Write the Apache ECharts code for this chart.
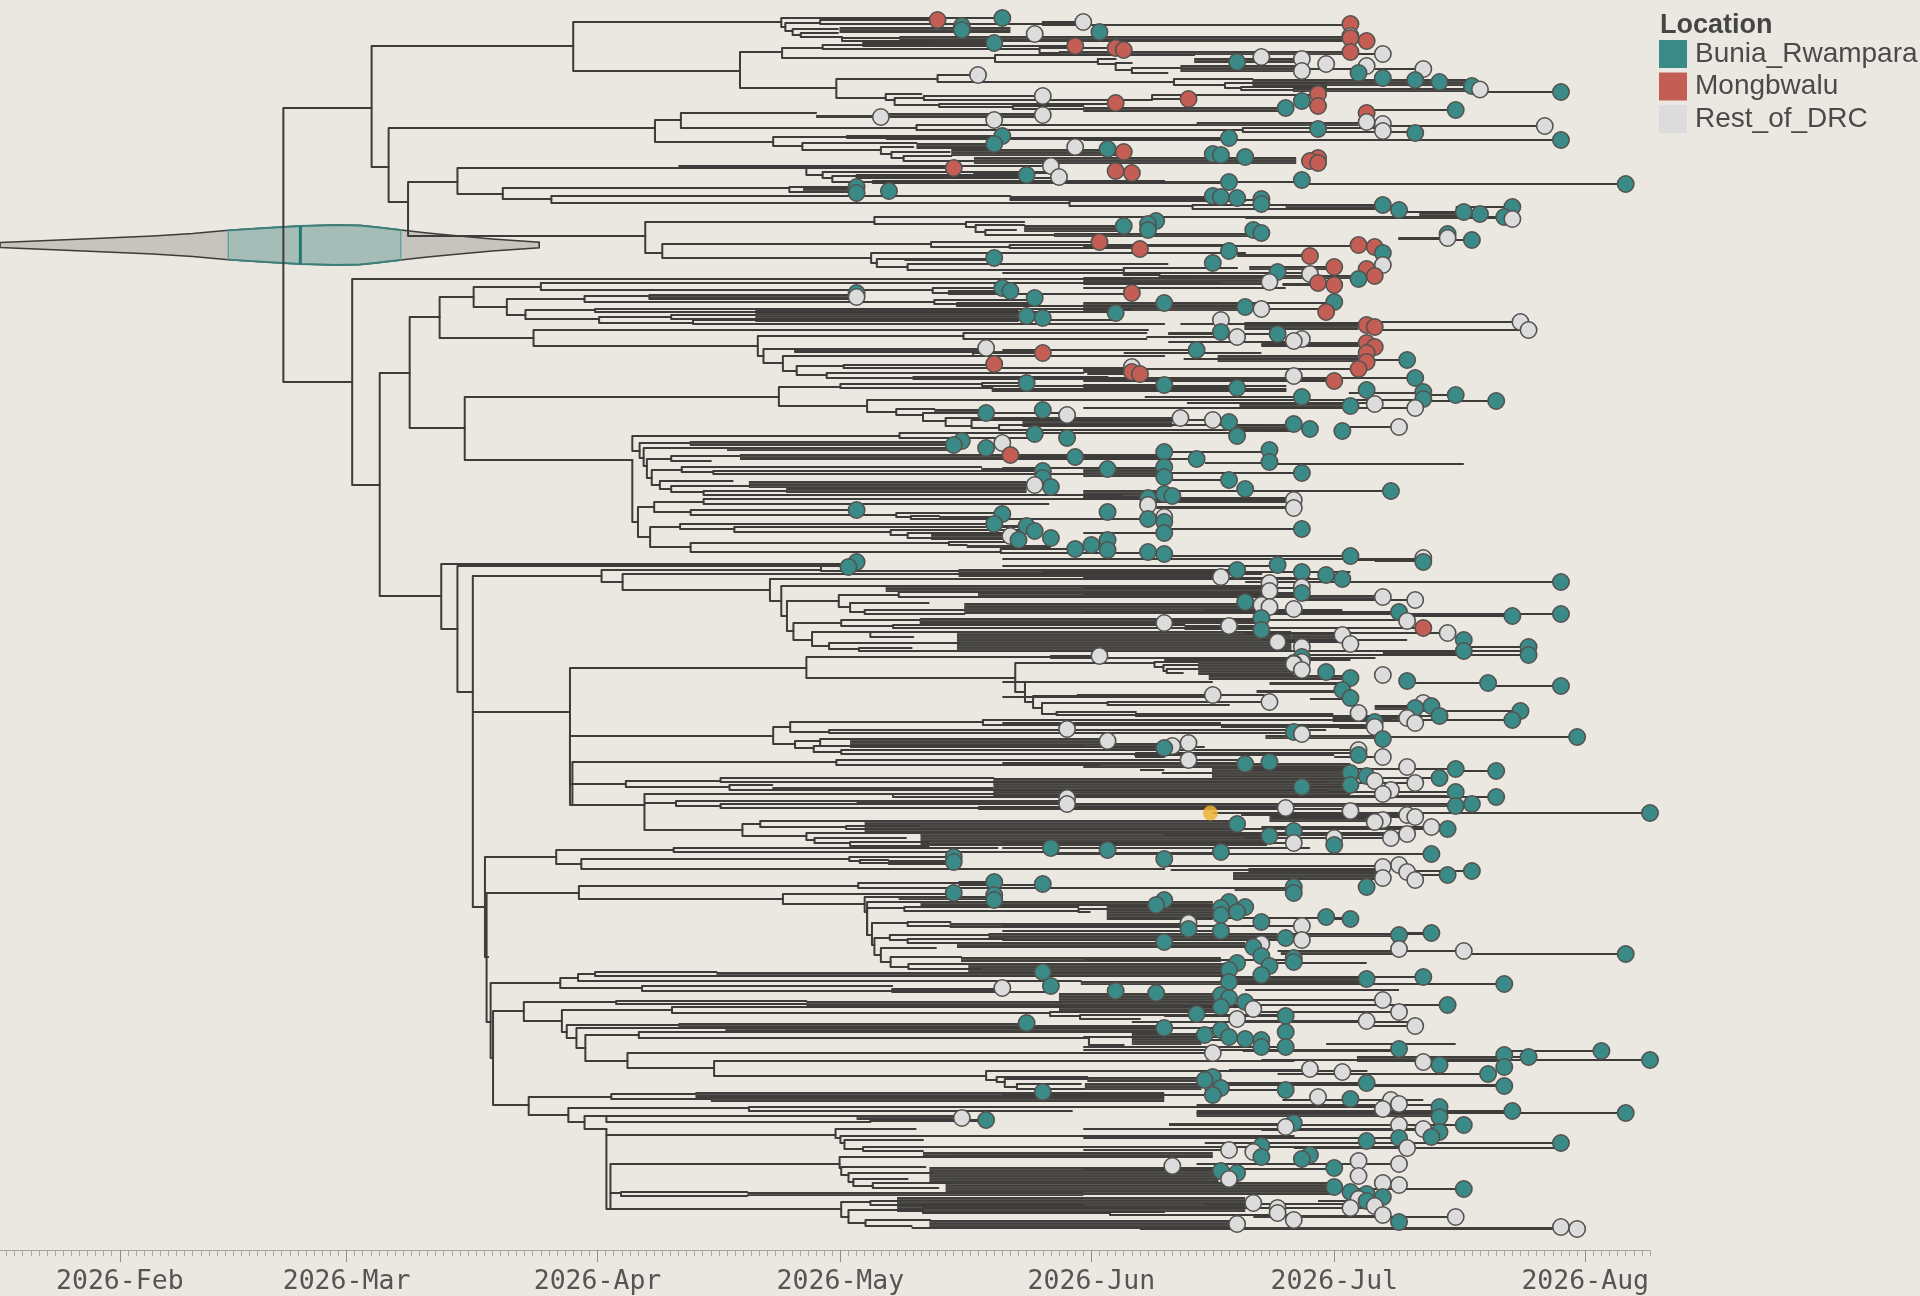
<!DOCTYPE html>
<html><head><meta charset="utf-8">
<style>html,body{margin:0;padding:0;background:#ebe8e1}#c{width:1920px;height:1296px}</style>
<script src="https://cdn.jsdelivr.net/npm/echarts@6/dist/echarts.min.js"></script>
</head><body><div id="c"></div>
<script>
// All x values are days since 2026-01-01; all y values are row positions of the tree layout.
const monthStarts=[31,59,90,120,151,181,212];
const monthLabels=['2026-Feb','2026-Mar','2026-Apr','2026-May','2026-Jun','2026-Jul','2026-Aug'];
const locations=['Bunia_Rwampara','Mongbwalu','Rest_of_DRC'];
// posterior root-age violin: day, half width in rows
const violinDays=[16.2,25,35.1,40,44.4,49,53.3,57.8,60.7,62.5,65.7,69,72.9,77,82.8];
const violinHalf=[2.5,5.5,9,11.5,14.7,17,19,20,19.5,18,15,12,9,6,2.7];
const violinHpd=[44.4,65.7];
const violinMedian=53.3;
const violinRow=245;
const highlightTip=[[165.7,813]];
// [day of node, top row, day top child ends, bottom row, day bottom child ends]
const brackets=[
[51.2,108,62.1,382,59.7],[62.1,46,87,167,64.2],[87,22,112.7,71,107.6],[112.7,18,140,27,113.2],[113.2,23,117.5,31,114.1],[117.5,20,132,24,145],[145,22,150,25,183],[114.1,29,119.7,35,115.1],[115.1,33,119.7,37,120.2],[120.2,38,127.3,41,131],[107.6,52,112.8,88,119.5],[112.8,48,117.8,58,139.1],[117.8,45,122.8,49,144.6],[122.8,43,139,46,149],[144.6,48,155,53,147],[139.1,55,163.7,62,151.8],[151.8,59,154,64,154],[154,63,156,70,156],[156,68,162,73,160.4],[119.5,79,132,98,125.6],[132,75,137,82,161.2],[161.2,79,170.9,85,167.5],[167.5,83,180,88,169.5],[169.5,87,180,90,175.9],[125.6,94,130,100,126.7],[126.7,98,130.3,105,132.2],[130.3,96,145,100,158.5],[158.5,99,163,95,179],[132.2,104,154,107,141.3],[141.3,106,150,109,150],[64.2,128,97.1,202,66.6],[97.1,120,100.3,142,111.7],[100.3,113,117,128,129.4],[129.4,125,164.1,130,169.7],[169.7,128,187,132,176.9],[111.7,137,120.8,146,115.3],[120.8,136,125.6,138,125.6],[115.3,143,129.4,150,125],[125,147,129,154,126.3],[126.3,152,133.5,158,127.8],[127.8,156,133.7,161,136.5],[66.6,182,72.7,236,95.9],[72.7,168,115.8,194,78.3],[115.8,168,134,175,117.8],[117.8,172,146,178,119],[119,176,122,182,124],[122,175,143,178,147],[124,181,160,183,160],[78.3,188,113.7,199,84.3],[113.7,187,122,192,115.4],[84.3,196,141,203,148.3],[141,198,166,200,171],[148.3,201,170,206,163.5],[163.5,205,187,209,189],[95.9,222,124.2,253,98],[124.2,217,170,224,135.5],[135.5,222,142.7,227,136.7],[136.7,225,142.7,232,137.9],[137.9,230,141.7,235,146.4],[98,244,131.2,258,123.8],[131.2,242,152,247,140.9],[140.9,245,168,248,154],[123.8,253,170,263,124.5],[124.5,259,127.9,267,128.3],[128.3,264,160.4,270,155],[155,268,169,275,159.4],[159.4,273,162.9,276,162.9],
[59.7,279,156,485,63.1],[63.1,373,66.8,596,70.7],[66.8,317,70.5,428,73.6],[70.5,297,74.7,338,82.1],[74.7,287,83,307,78.8],[83,283,167,290,131.4],[131.4,288,140,293,133.4],[133.4,291,141,294,156],[78.8,299,88.4,315,81.1],[88.4,296,96.4,302,131.6],[96.4,295,122,299,122],[131.6,300,144,304,134.4],[134.4,303,144,306,170],[81.1,310,89.7,319,90.2],[89.7,309,156,312,154],[90.2,317,99.1,323,101.8],[99.1,315,109.5,319,143],[101.8,320,154,324,160],[82.1,330,158,346,109.8],[109.8,336,135.2,356,110.5],[135.2,333,157.8,339,157.8],[110.5,349,114.4,363,112.9],[114.4,349,138,352,136.4],[112.9,356,136.4,371,114.6],[136.4,353,145,356,160],[114.6,366,120.4,375,118.3],[120.4,365,139,368,150],[118.3,373,150,378,129],[129,377,153,379,156],[73.6,397,112.4,460,94.3],[112.4,387,120,406,123.3],[120,384,137.5,388,138.8],[137.5,383,143,386,175],[138.8,389,175,391,175],[123.3,400,157.6,412,126.9],[126.9,409,131.6,415,130.2],[130.2,413,148,421,133],[133,418,143,426,136.2],[136.2,420,168,428,139.6],[139.6,425,172,430,175],
[94.3,436,127.3,451,95.2],[127.3,433,148,438,144],[95.2,443,101.4,458,95.7],[95.7,448,106,466,96.1],[96.1,459,99.1,478,96.7],[99.1,456,107.6,461,104],[96.7,470,100.4,485,97.7],[100.4,467,137.4,472,104.3],[104.3,471,144,474,150],[97.7,481,106.7,489,99.1],[99.1,486,108.7,492,103.1],[103.1,491,113.3,495,154.8],[94.3,460,94.3,522,95],[95,507,97,537,96.5],[97,502,103.1,512,101.5],[103.1,499,154.8,504,145.7],[101.5,510,122,515,126.9],[126.9,513,140,517,128.7],[128.7,516,132.2,519,153],[96.5,527,100.2,547,101.5],[100.2,524,139,529,106.9],[106.9,527,137.9,532,126.2],[126.2,530,144,535,128.3],[128.3,533,142,538,131.2],[101.5,543,133.4,552,139.8],[133.4,542,141,545,135.6],[139.8,549,149,553,160],
[70.7,564,122,629,72.7],[72.7,566,121,692,74.6],[74.6,576,90.5,712,86.6],[90.5,570,117.6,582,93.1],[117.6,566,121,571,134.6],[93.1,574,172,590,111.3],[111.3,579,172,601,112.7],[112.7,586,125.6,616,113.4],[113.4,601,119.8,631,114.2],[119.8,595,127.2,607,121.2],[127.2,592,137,597,178],[121.2,603,130.9,612,123],[123,610,135.3,614,135.3],[114.2,623,120.1,640,116.5],[120.1,620,129.8,626,126.5],[126.5,625,162.5,628,172],[116.5,632,123.7,646,118.6],[123.7,632,134.4,637,129],[118.6,643,134.7,649,122.3],[122.3,648,128.8,651,180],
[86.6,668,115.8,805,86.9],[115.8,657,146,678,141.6],[146,656,152,658,186],[141.6,663,158.8,692,142.8],[158.8,662,164.2,667,159.9],[159.9,665,164.2,671,160.3],[160.3,669,164.2,673,162.3],[142.8,682,148,702,143.8],[143.8,696,149.3,708,144.9],[144.9,703,153,714,146.7],[149.3,695,172.3,697,166],[153,702,173,705,168],[146.7,712,156.5,715,156.5],[156.5,714,180.8,716,180.8],[86.6,736,111.7,784,93.5],[86.9,762,119.5,805,95.8],[111.7,727,113.8,744,114.4],[113.8,722,137.6,732,118.6],[137.6,720,188,725,186],[118.6,730,148,733,176],[114.4,741,117.5,748,116.7],[117.5,739,121.2,746,121.2],[116.7,746,150,752,120.1],[120.1,750,184,754,156.5],[156.5,753,184,757,160],[119.5,760,170,765,152],[93.5,781,105.2,787,106.3],[105.2,778,138.9,782,180],[106.3,785,111.6,790,180],[95.8,794,126.5,830,107.9],[126.5,794,139.1,797,196],[99.7,801,122,806,105.2],[105.2,804,175,808,137.1],[137.1,807,175,809,183],[107.9,824,110.1,836,115.8],[110.1,821,123,827,120.7],[120.7,826,129.9,829,178],[115.8,833,129.9,840,116.8],[116.8,838,128.1,843,121.2],[121.2,842,130.9,846,130.9],
[74.6,712,74.6,907,76.1],[76.1,857,84.9,957,76.3],[84.9,850,99.4,864,88],[99.4,848,139.4,852,146],[88,859,121.1,869,160],[121.1,857,134,861,122.4],[122.4,860,125.9,863,134],[76.3,893,87.7,957,76.5],[87.7,886,122.2,899,112.9],[122.2,883,134.7,888,170],[134.7,882,139,885,145],[112.9,894,134,904,123],[123,897,139,912,123.3],[123.3,902,129.9,935,123.4],[123.3,908,127.9,935,123.9],[127.9,907,149.4,911,149.4],[149.4,909,152.9,912,150.8],[123.9,923,128.3,945,124.2],[128.3,922,133.6,926,133.5],[124.2,938,126.1,955,125],[126.1,935,138.3,940,128.3],[128.3,939,140.2,943,134.6],[125,948,131.8,962,126.2],[126.2,957,134.9,967,128.4],[128.4,964,135.8,969,137.4],[76.3,957,76.3,1022,76.8],[76.8,983,85.4,1058,77.1],[77.1,1011,80.9,1105,81.5],[85.4,978,87.6,988,95.5],[87.6,974,89.7,981,149.7],[89.7,972,104.7,976,167],[95.5,986,126.4,991,126.4],[126.4,989,140,992,146],[80.9,1002,92.3,1021,85.6],[92.3,1001,115.8,1004,115.8],[85.6,1010,99.2,1032,86.2],[99.2,1007,170,1013,145.9],[145.9,1012,165,1016,149.6],[149.6,1015,175,1019,157],[86.2,1025,100,1038,87.4],[87.4,1028,105.8,1048,88.5],[88.5,1035,95.1,1061,93.7],[95.1,1032,105.8,1038,150.7],[150.7,1037,155,1045,155],[93.7,1053,166,1068,104.4],[104.4,1061,176,1076,138],[138,1071,185,1080,139.3],[139.3,1077,150.5,1082,140.3],[140.3,1079,150.5,1087,141.8],[141.8,1084,149.7,1089,150.2],[81.5,1097,91.7,1115,86.4],[91.7,1094,102.1,1099,104],[86.4,1108,108.7,1122,88.4],[108.7,1107,176,1111,148.6],[88.4,1116,91.1,1129,91.1],[91.1,1116,122,1122,123.7],[123.7,1120,138,1121,138],[91.1,1129,91.1,1209,91.6],[91.6,1164,119.9,1209,120.1],[91.6,1193,92.9,1193,92.9],[119.4,1129,129.3,1138,120],[91.1,1135,119.4,1135,119.4],[120,1136,176,1143,120.5],[120.5,1140,130.2,1149,122.8],[122.8,1147,175,1151,130.2],[119.9,1157,133.5,1168,120.1],[120.1,1167,130.5,1175,121],[121,1173,131.4,1182,121.6],[121.6,1179,128.3,1186,124],[124,1183,133.4,1188,132.1],[92.9,1192,108.5,1196,108.5],[120.1,1202,123.7,1217,121],[123.7,1201,127.5,1205,150],[121,1210,130.2,1223,123.1],[130.2,1208,170,1213,153.3],[123.1,1220,131.1,1226,128.8],[153.3,1212,160,1215,176]
];
// dense runs of sibling branches: [day start, day end, top row, bottom row]
const denseRuns=[
[117.5,131,19,21],[145,150,22,24],[119.9,141,27,33],[127.3,182,36,42],[122.8,139,43,46],[147,182,51,55],[163.7,177,58,63],[162,177,65,72],[170.9,197.7,79,86],[175.9,198,88,92],[150,175,107,112],[117,125,115,118],[125,145,113,118],[164,184,122,126],[176.9,190,131,133],[125.6,140,135,140],[129.4,139,143,149],[133.7,155,149,156],[136.5,176.3,157,164],[136.4,146,171,174],[122,143,175,178],[160,168,181,184],[115.4,122,188,193],[141,166,196,199],[175,187,204,208],[191.5,197,212,216],[170,202,216,219],[142.7,155,225,232],[146.4,171,233,237],[188.9,195,237,240],[154,157,247,249],[150,184,245,247],[169,177,254,257],[127.9,139,258,261],[170.5,181,266,270],[162.9,184,275,279],[174.6,179,283,286],
[150,172,277,285],[96.4,121,294,298],[133.4,141,291,294],[134.4,144,302,305],[150,170,302,311],[109.5,142,310,322],[169.9,184,322,330],[160.5,167,332,335],[172,184,342,347],[114.4,138,348,351],[136.4,145,351,353],[166.6,184,355,362],[150,156,367,373],[150.5,157,373,375],[150,181,377,380],[182.8,191,392,394],[169.3,183,403,407],[131.6,138,409,414],[142.5,161,417,427],[146,158,423,426],[168,176,424,432],[101.4,133.6,441,446],[106,134,447,451],[107.6,160,454,460],[137.4,144,468,472],[165,172,462,464],[108.7,143,481,488],[113.3,143,488,493],[150,160,467,477],[150,160,490,500],[159,175,500,503],[159,175,506,509],[150,157,518,520],[132.2,140,516,520],[138,144,525,528],[131.2,141,534,540],[135.6,146,545,548],[186,192,559,562],
[134.6,168,569,577],[125.6,172.7,585,592],[137,177,592,596],[177.8,186,595,600],[135.3,172,603,614],[129.8,171.4,618,624],[162.5,171.4,625,630],[134.4,175.7,631,652],[175.7,181,633,640],[146,152,655,658],[164.2,176,657,675],[165.5,182,675,680],[173,182,682,685],[171.4,181,690,693],[178.4,182,698,700],[186,191,706,710],[180.8,190,717,722],[181.6,185,727,729],[121.2,153,738,748],[153,160,743,750],[172.5,187,735,739],[187,197,651,654],[111.6,138.9,787,790],[150,183,763,768],[165.9,183,767,782],[138.9,183,778,797],[183,195,795,797],[122,148,800,803],[148,195,803,807],[123,169,820,832],[129.9,172.7,832,846],[173,185,815,822],[178,193,827,830],[146,167,852,855],[125.9,134,860,865],[134.7,139,882,885],[127.2,139,896,900],[129.9,166,901,906],[152.9,166,906,920],[133.5,163,923,928],[138.3,174,933,940],[134.4,170,942,948],[174.4,189,933,937],[174.4,189,950,955],[134.9,167,957,962],[135.8,167.6,963,975],[104.7,167.6,972,976],[167.6,184.6,977,983],[149.7,167,981,985],[126.5,140,989,992],[147,166.7,993,1013],[115.8,166,1001,1007],[100,143,1023,1027],[143,160,1025,1032],[105.8,160,1027,1033],[156,164.6,1033,1045],[169.7,189,1049,1052],[183.8,202,1056,1062],[150.5,164.6,1077,1082],[150.2,164.6,1083,1090],[102.1,160,1092,1098],[104,160,1097,1102],[122,135,1115,1120],[164,194,1110,1117],[160.6,175,1123,1126],[130.2,166,1152,1158],[131,166.7,1167,1182],[133,181,1182,1195],[108.5,150,1192,1196],[127,170,1197,1212],[171,186.7,1215,1218],[131,168,1220,1227],[128.8,168,1227,1229],[157,209,1227,1230],[170.4,187,868,878],[168.5,186,872,880],[168.7,176,887,891]
];
// single terminal branches: [day start, day end, row]
const terminalBranches=[
[182,187,54],[177,192,69],[198,209,92],[185,196,110],[185,207,126],[150,209,140],[125.6,168,138],[168,177,182],[177,217,184],[196,203,207],[189,197,212],[197,203,217],[195,198,240],[186,204,322],[186,205,330],[186,190,360],[176,191,378],[192,196,395],[192,201,401],[182,189,427],[173,197,464],[165,177,473],[170,188,491],[160,176,500],[160,176,508],[160,177,529],[160,183,556],[183,192,560],[170,209,582],[187,191,600],[190,203,616],[172,209,614],[180,192,628],[186,205,651],[197,205,647],[190,200,683],[200,209,686],[192,204,711],[193,203,720],[187,211,737],[184,187,757],[196,201,771],[183,196,769],[195,201,797],[166,220,813],[167,193,854],[191,198,871],[190,195,875],[180,183,919],[189,193,933],[197,217,954],[175,197,951],[185,192,977],[167,202,984],[171,195,1005],[171,189,1012],[185,191,1026],[170,185,1021],[202,214,1051],[202,205,1057],[172,220,1060],[182,200,1074],[185,202,1086],[166,185,1083],[203,217,1113],[194,203,1111],[176,197,1125],[165,209,1143],[184,189,1164],[189,197,1189],[189,196,1217],[95.8,99.7,803],[100,146,166],[143,192,400],[139,168,139],[145,183,572],[150,178,578],[165,182,610],[172,190,640],[160,183,660],[180,196,792],[160,190,835],[170,190,838],[172,192,1130],[176,209,1148],[175,189,1107],[176,192,1100],[180,196,1044],[165,172,1040],[160,175,1016],[170,189,990],[172,185,963],[165,172,918],
[140,192,559],[140,174,566],[160.7,182,579],[150,177,588],[150,177,594],[177,191,600],[150,189,612],[177.8,209,614],[160,190,620],[173,192,628],[170,195,633],[175,183,642],[150,186,651],[177.8,205,655],[140,166,682],[140,166,697],[178,183,699],[186,192,706],[156.5,194,716],[191,203,720],[140,167,723],[167,185,727],[140,180,730],[140,165,747],[156.3,181,755],[181,187,757],[140,171,763],[157,160,770],[159.7,166,773],[171,196,769],[183,194,778],[183,191,783],[177,183,787],[183,196,792],[183,201,797],[140,162.7,808],[169.5,190,815],[173.4,191,817],[172,193,827],[175,195,829],[172,190,833],[177,188,838],[140,176,843],[140,178,848],
[140,178,273],[150,175,288],[160,181,303],[170,179,309],[162,185,324],[160.5,174,334],[157.8,169,337],[160.5,176,342],[172,184,345],[140,164,350],[155,172,353],[162.4,184,359],[150,184,369],[150,181,381],[150,160,385],[150,169,388],[157.6,177,397],[162.8,186,403],[150,191,408],[140,169,433],[160,173,452],[140,160,457],[140,164,459],[140,160,468],[160,177,473],[160,168,480],[160,188,491],[150,176,498],[160,177,529],[150,160,533],
[160.4,187,866],[160.8,187,870],[140,167,888],[160,168,905],[164.6,183,918],[140,177,926],[140,167,931],[174.4,193,934],[140,177,940],[174,197,951],[150,176,960],[167,192,977],[167,202,984],[168,187,1000],[168,195,1005],[171,175,1016],[156,191,1022],[140,167,1028],[150,168,1037],[150,175,1047],[150,175,1050],[168,178,1070],[174,200,1074],[166,202,1085],[165,175,1090],[140,166,1095],[174.6,183,1100],[164,194,1105],[164,217,1113],[160.6,197,1125],[150,192,1129],[150,189,1138],[177,209,1143],[166,190,1147],[150,168,1150],[164,189,1164],[150,181,1169],[181,197,1189],[179,184,1201],[165,187,1204],[170,186,1208],[180,196,1217]
];
const buniaTips=[
[169,62],[140,18],[135,26],[135,30],[152,32],[139,43],[184,73],[187,78],[191,80],[194,82],[198,86],[209,92],[177,101],[175,108],[196,110],[179,129],[191,133],[168,138],[209,140],[170,157],[167,155],[168,182],[177,180],[217,184],[167,197],[169,198],[172,199],[172,204],[187,205],[189,210],[197,212],[199,214],[203,207],[202,217],[171,230],[172,233],[195,234],[198,240],[168,251],[187,253],[174,272],[184,279],[140,136],[139,144],[153,149],[166,154],[143,175],[122,187],[122,193],[126,191],[166,196],[155,226],[158,224],[159,221],[158,230],[166,263],[139,258],[140,288],[141,291],[144,298],[122,293],[160,303],[143,316],[145,318],[154,313],[170,307],[181,302],[167,332],[174,334],[190,360],[164,350],[143,383],[160,385],[169,388],[191,378],[185,390],[177,397],[192,392],[192,399],[196,395],[201,401],[183,406],[138,413],[145,410],[168,422],[176,424],[178,429],[182,431],[169,436],[144,434],[148,438],[135,441],[134,445],[138,448],[149,457],[153,469],[145,471],[145,478],[146,487],[160,452],[160,467],[160,477],[164,459],[173,450],[173,462],[177,473],[168,480],[170,489],[188,491],[160,494],[161,496],[158,498],[122,510],[153,512],[140,514],[139,524],[143,526],[144,531],[142,540],[146,538],[149,549],[151,545],[153,540],[153,550],[158,519],[160,522],[160,533],[177,529],[158,552],[160,554],[183,556],[192,562],[122,562],[121,567],[169,570],[174,565],[177,572],[180,575],[182,579],[209,582],[177,593],[170,602],[189,612],[203,616],[209,614],[172,618],[172,630],[197,640],[197,651],[205,647],[205,655],[177,657],[176,663],[180,672],[183,678],[190,681],[200,683],[209,686],[182,690],[183,698],[191,708],[193,706],[194,716],[204,711],[203,720],[186,722],[176,732],[187,739],[211,737],[160,748],[184,755],[170,764],[173,762],[196,769],[201,771],[183,773],[183,785],[185,776],[194,778],[177,787],[196,792],[196,806],[198,804],[201,797],[220,813],[195,829],[169,824],[176,831],[173,836],[181,845],[167,852],[193,854],[160,859],[146,848],[153,850],[134,857],[134,862],[195,875],[198,871],[176,887],[176,893],[185,887],[139,882],[145,884],[134,893],[139,895],[139,900],[160,900],[159,905],[168,902],[167,908],[167,915],[169,912],[170,907],[172,922],[180,917],[183,919],[163,929],[167,931],[175,938],[189,935],[193,933],[160,942],[171,947],[172,956],[217,954],[176,958],[176,962],[173,966],[169,963],[168,970],[172,975],[168,982],[185,979],[192,977],[202,984],[145,972],[146,986],[154,991],[159,993],[167,995],[168,998],[167,1007],[170,1002],[195,1005],[164,1014],[175,1016],[143,1023],[160,1028],[165,1035],[167,1030],[168,1037],[170,1039],[172,1040],[172,1047],[175,1032],[175,1047],[189,1049],[202,1055],[202,1067],[205,1057],[214,1051],[220,1060],[194,1065],[200,1074],[166,1077],[165,1080],[167,1088],[166,1095],[185,1083],[175,1090],[202,1086],[145,1092],[183,1099],[194,1107],[194,1117],[203,1111],[217,1113],[138,1120],[176,1123],[197,1125],[194,1132],[193,1137],[189,1138],[185,1141],[209,1143],[172,1146],[172,1157],[178,1155],[177,1159],[181,1168],[167,1171],[169,1173],[181,1187],[197,1189],[183,1192],[185,1194],[187,1197],[185,1201],[189,1222]
];
const mongbwaluTips=[
[183,24],[183,38],[185,41],[183,52],[179,94],[179,106],[185,113],[178,161],[179,158],[179,163],[184,245],[186,247],[178,256],[181,267],[185,269],[186,276],[179,283],[181,285],[132,20],[149,46],[154,48],[155,50],[154,103],[163,99],[155,152],[134,168],[154,171],[156,173],[152,242],[157,249],[156,293],[145,353],[139,364],[156,372],[157,374],[180,312],[185,325],[186,327],[185,343],[186,347],[185,353],[185,362],[184,369],[181,381],[141,455],[192,628]
];
const restTips=[
[183,36],[187,54],[172,57],[177,59],[177,71],[180,64],[185,66],[192,69],[199,89.5],[185,122],[187,124],[187,131],[207,126],[203,219],[195,238],[187,265],[178,274],[173,282],[150,22],[144,34],[137,75],[145,96],[145,115],[125,117],[139,120],[149,147],[146,166],[147,177],[122,297],[138,348],[156,367],[148,415],[140,443],[144,485],[158,505],[172,309],[167,320],[169,337],[176,341],[177,339],[204,322],[205,330],[176,376],[186,404],[191,408],[162,418],[166,420],[189,427],[176,500],[176,508],[160,517],[141,536],[192,558],[167,577],[173,583],[173,591],[177,587],[187,597],[191,600],[172,605],[173,607],[176,609],[190,621],[160,623],[168,626],[195,633],[182,635],[183,644],[174,642],[177,647],[176,664],[177,662],[177,670],[187,675],[166,695],[173,702],[192,703],[184,713],[186,727],[190,718],[191,723],[177,734],[161,746],[163,743],[163,760],[184,750],[187,757],[190,767],[186,781],[191,783],[187,794],[188,790],[175,808],[183,811],[190,815],[191,817],[186,822],[187,820],[193,827],[176,843],[190,834],[188,838],[181,838],[152,656],[148,729],[153,741],[148,798],[148,804],[187,867],[187,878],[189,865],[190,872],[191,880],[177,926],[163,923],[177,940],[172,944],[189,949],[197,951],[140,988],[171,1009],[187,1000],[189,1012],[169,1019],[185,1021],[191,1026],[166,1053],[192,1062],[178,1069],[182,1072],[179,1097],[188,1100],[189,1104],[187,1109],[175,1127],[192,1129],[189,1125],[190,1148],[168,1150],[171,1152],[184,1161],[184,1176],[189,1164],[161,1166],[168,1179],[135,1118],[187,1183],[189,1185],[184,1199],[183,1208],[186,1206],[187,1215],[171,1203],[174,1208],[174,1213],[176,1220],[169,1224],[196,1217],[209,1227],[211,1229]
];
const dayTicks=[];for(let d=17;d<=220;d++)dayTicks.push(d);

const lineColor='#3d3c3a', runColor='#403f3c', runStripe='#64635e';
const colors={Bunia_Rwampara:'#3a8b88',Mongbwalu:'#c45e54',Rest_of_DRC:'#dcdcdc'};
function tipSeries(name,data){
  return {type:'custom',name,data,progressive:0,silent:true,clip:false,encode:{x:0,y:1},itemStyle:{color:colors[name]},
    renderItem(p,api){const c=api.coord([api.value(0),api.value(1)]);
      return {type:'circle',z2:1000+api.value(1),shape:{cx:c[0],cy:c[1],r:8.2},style:{fill:colors[name],stroke:'#54524f',lineWidth:1.6}};}};
}
const poly=(pts,api)=>pts.map(p=>api.coord(p));
const option={
  backgroundColor:'#ebe8e1',animation:false,
  title:{text:'Location',left:1660,top:12,padding:0,textStyle:{fontFamily:'Liberation Sans',fontSize:27,fontWeight:'bold',color:'#454545'}},
  legend:{data:locations,orient:'vertical',left:1659,top:40,padding:0,itemWidth:28,itemHeight:28,itemGap:4.5,icon:'rect',selectedMode:false,
    textStyle:{fontFamily:'Liberation Sans',fontSize:28,color:'#4a4a4a',padding:[3,0,0,3]}},
  grid:{left:0,top:0,width:1650,height:1250},
  xAxis:[
   {type:'value',min:16.2,max:220,position:'top',offset:-1250,splitLine:{show:false},axisLine:{lineStyle:{color:'#a5a39d',width:1.2}},
    axisTick:{inside:true,customValues:dayTicks,length:6,lineStyle:{color:'#aaa8a2',width:1}},axisLabel:{show:false}},
   {type:'value',min:16.2,max:220,position:'bottom',splitLine:{show:false},axisLine:{show:false},
    axisTick:{customValues:monthStarts,length:12,lineStyle:{color:'#8f8d88',width:1}},
    axisLabel:{customValues:monthStarts,margin:19,fontFamily:'DejaVu Sans Mono',fontSize:26.5,color:'#555555',
      formatter:v=>monthLabels[monthStarts.indexOf(v)]}}
  ],
  yAxis:{type:'value',inverse:true,min:0,max:1250,show:false},
  series:[
   {type:'custom',name:'violin',data:[[0,0]],silent:true,clip:false,z:1,encode:{x:0,y:1},renderItem(p,api){
     const top=violinDays.map((d,i)=>[d,violinRow-violinHalf[i]]),bot=violinDays.map((d,i)=>[d,violinRow+violinHalf[i]]).reverse();
     const a=violinDays.indexOf(violinHpd[0]),b=violinDays.indexOf(violinHpd[1]);
     const t2=top.slice(a,b+1),b2=violinDays.slice(a,b+1).map((d,i)=>[d,violinRow+violinHalf[a+i]]).reverse();
     return {type:'group',children:[
       {type:'polygon',shape:{points:poly(top.concat(bot),api)},style:{fill:'#c7c4be',stroke:lineColor,lineWidth:1.6}},
       {type:'polygon',shape:{points:poly(t2.concat(b2),api)},style:{fill:'#a6bcb7',stroke:'#5fa39e',lineWidth:1.4}},
       {type:'polyline',shape:{points:poly(t2,api)},style:{fill:null,stroke:'#3f7f7a',lineWidth:1.8}},
       {type:'polyline',shape:{points:poly(b2,api)},style:{fill:null,stroke:'#3f7f7a',lineWidth:1.8}},
       {type:'line',shape:(()=>{const i=violinDays.indexOf(violinMedian),c1=api.coord([violinMedian,violinRow-violinHalf[i]]),c2=api.coord([violinMedian,violinRow+violinHalf[i]]);return {x1:c1[0],y1:c1[1],x2:c2[0],y2:c2[1]};})(),style:{stroke:'#1f7a72',lineWidth:3}}
     ]};}},
   {type:'custom',name:'denseRuns',data:denseRuns,progressive:0,silent:true,clip:false,z:2,encode:{x:[0,1],y:[2,3]},renderItem(p,api){
     const a=api.coord([api.value(0),api.value(2)]),b=api.coord([api.value(1),api.value(3)]);
     const kids=[{type:'rect',shape:{x:a[0],y:a[1],width:b[0]-a[0],height:b[1]-a[1]},style:{fill:runColor}}];
     for(let y=a[1]+2.6;y<b[1]-1;y+=2.6)kids.push({type:'line',shape:{x1:a[0],y1:y,x2:b[0],y2:y},style:{stroke:runStripe,lineWidth:0.7}});
     return {type:'group',children:kids};}},
   {type:'custom',name:'brackets',data:brackets,progressive:0,silent:true,clip:false,z:2,encode:{x:0,y:1},renderItem(p,api){
     const v=i=>api.value(i);
     return {type:'polyline',shape:{points:poly([[v(2),v(1)],[v(0),v(1)],[v(0),v(3)],[v(4),v(3)]],api)},
       style:{fill:null,stroke:lineColor,lineWidth:2,lineJoin:'round',lineCap:'round'}};}},
   {type:'custom',name:'terminals',data:terminalBranches,progressive:0,silent:true,clip:false,z:2,encode:{x:[0,1],y:2},renderItem(p,api){
     const a=api.coord([api.value(0),api.value(2)]),b=api.coord([api.value(1),api.value(2)]);
     return {type:'line',shape:{x1:a[0],y1:a[1],x2:b[0],y2:b[1]},style:{stroke:lineColor,lineWidth:2}};}},
   tipSeries('Bunia_Rwampara',buniaTips),tipSeries('Mongbwalu',mongbwaluTips),tipSeries('Rest_of_DRC',restTips),
   {type:'custom',name:'highlight',data:highlightTip,silent:true,clip:false,z:3,encode:{x:0,y:1},renderItem(p,api){
     const c=api.coord([api.value(0),api.value(1)]);
     return {type:'circle',z2:3000,shape:{cx:c[0],cy:c[1],r:7.5},style:{fill:'rgba(236,178,50,0.85)'}};}}
  ]
};
const chart=echarts.init(document.getElementById('c'),null,{renderer:'canvas',width:1920,height:1296});
chart.setOption(option);
</script></body></html>
